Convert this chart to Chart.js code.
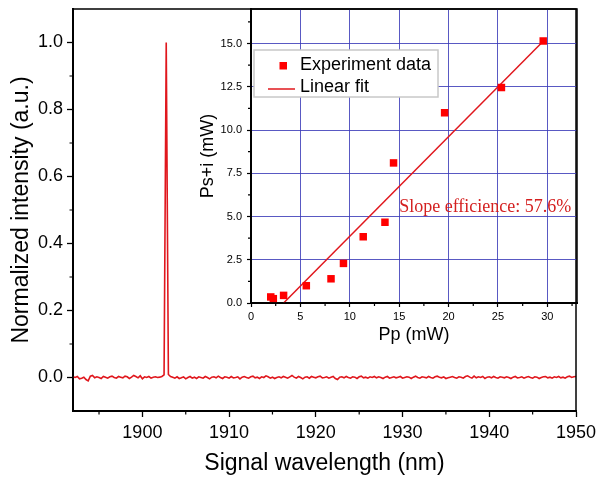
<!DOCTYPE html>
<html>
<head>
<meta charset="utf-8">
<script src="https://cdn.jsdelivr.net/npm/chart.js@4.4.1/dist/chart.umd.min.js"></script>
<style>
  body { margin: 0; background: #fff; }
  #wrap { position: relative; width: 598px; height: 483px; }
  #main { position: absolute; left: 0; top: 0; }
  #inset { position: absolute; left: 180px; top: 0; }
</style>
</head>
<body>
<div id="wrap">
  <canvas id="main" width="598" height="483"></canvas>
  <canvas id="inset" width="410" height="360"></canvas>
</div>
<script>
// spectrum, one sample every 0.25 nm starting at 1892 nm
var wlStart = 1892;
var wlStep = 0.25;
var intensity = [
  0.002, 0.000, 0.003, -0.004, -0.002, 0.001, -0.006, -0.010, 0.004, 0.006, -0.001, 0.002, 0.000, -0.003, 0.003, 0.001, -0.002, 0.002, 0.004, 0.000,
  -0.002, 0.003, 0.001, -0.001, 0.004, 0.002, -0.003, 0.001, 0.006, 0.003, -0.001, 0.005, -0.004, 0.002, 0.000, 0.003, -0.002, 0.001, 0.002, 0.000,
  0.001, 0.003, 0.008,
  1.000,
  0.009, 0.003, 0.001, -0.002, 0.002, -0.003, -0.001, 0.002, -0.004, 0.000, 0.003, -0.002, 0.001, -0.003, 0.002, 0.000,
  -0.002, 0.003, 0.000, -0.004, 0.001, 0.002, -0.001, 0.004, 0.000, -0.003, 0.002, 0.001, -0.002, 0.003, -0.001, 0.000, 0.002, -0.004, 0.001, 0.003,
  0.000, -0.002, 0.002, 0.004, -0.001, 0.001, -0.003, 0.002, 0.000, 0.005, 0.002, -0.002, 0.001, -0.003, 0.000, 0.002, -0.001, 0.003, 0.001, -0.002,
  0.002, 0.006, 0.001, -0.002, 0.003, 0.000, -0.004, 0.001, 0.002, -0.002, 0.003, 0.001, -0.001, 0.002, 0.004, -0.001, 0.000, 0.002, -0.002, 0.001,
  0.003, -0.003, -0.006, 0.001, 0.002, -0.001, 0.003, 0.000, -0.002, 0.002, 0.001, -0.003, 0.002, 0.004, -0.001, 0.001, -0.002, 0.002, 0.000, 0.003,
  -0.001, 0.002, 0.000, -0.003, 0.001, 0.003, -0.002, 0.000, 0.002, -0.001, 0.001, 0.003, -0.002, 0.000, 0.002, 0.001, -0.003, 0.001, 0.004, 0.000,
  -0.002, 0.002, 0.001, -0.001, 0.003, 0.000, -0.002, 0.002, 0.004, 0.001, -0.001, 0.002, -0.003, -0.001, 0.001, 0.003, 0.000, -0.002, 0.002, 0.001,
  -0.002, 0.003, 0.005, 0.001, -0.002, 0.004, -0.001, 0.002, 0.000, 0.003, -0.003, 0.001, 0.002, -0.001, 0.003, 0.000, -0.002, 0.002, 0.001, -0.001,
  0.002, 0.000, -0.003, 0.001, 0.003, -0.001, 0.000, 0.002, -0.002, 0.001, 0.003, 0.000, -0.002, 0.002, 0.001, -0.003, 0.000, 0.002, 0.003, -0.001,
  0.001, -0.002, 0.002, 0.000, 0.003, -0.001, 0.001, -0.002, 0.002, 0.004, 0.000, 0.002, 0.003
];

var mainXTicks = [1900, 1910, 1920, 1930, 1940, 1950];
var mainXMinor = [1895, 1905, 1915, 1925, 1935, 1945];
var mainYTicks = [0, 0.2, 0.4, 0.6, 0.8, 1.0];
var mainYMinor = [0.1, 0.3, 0.5, 0.7, 0.9];

// inset: output power vs pump power
var pumpPower = [2.0, 2.26, 3.3, 5.6, 8.1, 9.36, 11.36, 13.56, 14.43, 19.6, 25.35, 29.58];
var outPower = [0.35, 0.25, 0.44, 1.0, 1.4, 2.29, 3.83, 4.67, 8.1, 11.0, 12.46, 15.15];
var fitPump = [3.3, 29.6];
var fitOut = [0, 15.15];

var insetXTicks = [0, 5, 10, 15, 20, 25, 30];
var insetXMinor = [2.5, 7.5, 12.5, 17.5, 22.5, 27.5, 32.5];
var insetYTicks = [0, 2.5, 5, 7.5, 10, 12.5, 15];
var insetYMinor = [1.25, 3.75, 6.25, 8.75, 11.25, 13.75, 16.25];

var slopeText = 'Slope efficience: 57.6%';

Chart.defaults.font.family = '"Liberation Sans", Arial, sans-serif';
Chart.defaults.color = '#000';

// box round the plot area
var frame = {
  id: 'frame',
  afterDraw: function (chart) {
    var a = chart.chartArea, ctx = chart.ctx;
    ctx.save();
    ctx.strokeStyle = '#000';
    ctx.lineWidth = 1.5;
    ctx.strokeRect(a.left, a.top, a.right - a.left, a.bottom - a.top);
    ctx.restore();
  }
};

// short minor ticks outside the axes
var minorTicks = {
  id: 'minorTicks',
  afterDraw: function (chart, args, opts) {
    var ctx = chart.ctx, a = chart.chartArea;
    ctx.save();
    ctx.strokeStyle = '#000';
    ctx.lineWidth = 1.2;
    ctx.beginPath();
    (opts.x || []).forEach(function (v) {
      var px = chart.scales.x.getPixelForValue(v);
      ctx.moveTo(px, a.bottom);
      ctx.lineTo(px, a.bottom + opts.len);
    });
    (opts.y || []).forEach(function (v) {
      var py = chart.scales.y.getPixelForValue(v);
      ctx.moveTo(a.left, py);
      ctx.lineTo(a.left - opts.len, py);
    });
    ctx.stroke();
    ctx.restore();
  }
};

function setTicks(list) {
  return function (scale) {
    scale.ticks = list.map(function (v) { return { value: v }; });
  };
}

// fixed axis box size, no extra label padding
function fixSize(h, w) {
  return function (s) {
    if (h) s.height = h;
    if (w) s.width = w;
    s.paddingTop = 0; s.paddingBottom = 0;
    s.paddingLeft = 0; s.paddingRight = 0;
  };
}

var spectrum = intensity.map(function (v, i) {
  return { x: wlStart + i * wlStep, y: v };
});

new Chart(document.getElementById('main'), {
  type: 'line',
  data: {
    datasets: [{
      data: spectrum,
      borderColor: '#e0171d',
      borderWidth: 1.6,
      pointRadius: 0,
      tension: 0
    }]
  },
  options: {
    responsive: false,
    animation: false,
    layout: { padding: { top: 9, right: 22, left: 0, bottom: 0 } },
    plugins: {
      legend: { display: false },
      tooltip: { enabled: false },
      minorTicks: { x: mainXMinor, y: mainYMinor, len: 3.5 }
    },
    scales: {
      x: {
        type: 'linear',
        min: 1892,
        max: 1950,
        afterBuildTicks: setTicks(mainXTicks),
        afterFit: fixSize(72, 0),
        grid: { drawOnChartArea: false, tickLength: 6, tickColor: '#000', tickWidth: 1.3 },
        border: { color: '#000', width: 2 },
        ticks: { font: { size: 18 }, padding: 5, maxRotation: 0, autoSkip: false,
          callback: function (v) { return String(v); } },
        title: { display: true, text: 'Signal wavelength (nm)', font: { size: 23 }, padding: { top: 0, bottom: 6 } }
      },
      y: {
        min: -0.1,
        max: 1.1,
        afterBuildTicks: setTicks(mainYTicks),
        afterFit: fixSize(0, 73),
        grid: { drawOnChartArea: false, tickLength: 6, tickColor: '#000', tickWidth: 1.3 },
        border: { color: '#000', width: 2 },
        ticks: { font: { size: 18 }, padding: 4,
          callback: function (v) { return v.toFixed(1); } },
        title: { display: true, text: 'Normalized intensity (a.u.)', font: { size: 23 }, padding: { top: 8, bottom: 0 } }
      }
    }
  },
  plugins: [frame, minorTicks]
});

// legend box inside the inset
var insetLegend = {
  id: 'insetLegend',
  beforeDatasetsDraw: function (chart) {
    var ctx = chart.ctx, a = chart.chartArea;
    var ds = chart.data.datasets;
    var x0 = a.left + 3, y0 = a.top + 41;
    ctx.save();
    ctx.fillStyle = '#fff';
    ctx.fillRect(x0, y0, 184, 47);
    ctx.strokeStyle = '#c8c8c8';
    ctx.lineWidth = 1.5;
    ctx.strokeRect(x0, y0, 184, 47);
    ctx.font = '18px "Liberation Sans", Arial, sans-serif';
    ctx.textBaseline = 'middle';
    ctx.textAlign = 'left';
    ctx.fillStyle = ds[0].backgroundColor;
    ctx.fillRect(x0 + 25.5, y0 + 12, 7.5, 7.5);
    ctx.fillStyle = '#000';
    ctx.fillText(ds[0].label, x0 + 46, y0 + 15);
    ctx.strokeStyle = ds[1].borderColor;
    ctx.lineWidth = 1.5;
    ctx.beginPath();
    ctx.moveTo(x0 + 14, y0 + 39);
    ctx.lineTo(x0 + 41, y0 + 39);
    ctx.stroke();
    ctx.fillStyle = '#000';
    ctx.fillText(ds[1].label, x0 + 46, y0 + 37);
    ctx.restore();
  }
};

var slopeLabel = {
  id: 'slopeLabel',
  afterDatasetsDraw: function (chart) {
    var ctx = chart.ctx;
    ctx.save();
    ctx.font = '18px "Liberation Serif", "Times New Roman", serif';
    ctx.fillStyle = '#d42020';
    ctx.textAlign = 'left';
    ctx.textBaseline = 'middle';
    ctx.fillText(slopeText, chart.scales.x.getPixelForValue(15), chart.scales.y.getPixelForValue(5.56));
    ctx.restore();
  }
};

var gridBlue = 'rgba(60, 60, 185, 0.85)';

new Chart(document.getElementById('inset'), {
  type: 'scatter',
  data: {
    datasets: [{
      label: 'Experiment data',
      data: pumpPower.map(function (p, i) { return { x: p, y: outPower[i] }; }),
      backgroundColor: '#f00',
      borderColor: '#f00',
      pointStyle: 'rect',
      pointRadius: 5.3,
      borderWidth: 0
    }, {
      label: 'Linear fit',
      data: fitPump.map(function (p, i) { return { x: p, y: fitOut[i] }; }),
      showLine: true,
      borderColor: '#e0171d',
      borderWidth: 1.5,
      pointRadius: 0
    }]
  },
  options: {
    responsive: false,
    animation: false,
    layout: { padding: { top: 9, right: 13, left: 0, bottom: 0 } },
    plugins: {
      legend: { display: false },
      tooltip: { enabled: false },
      minorTicks: { x: insetXMinor, y: insetYMinor, len: 3 }
    },
    scales: {
      x: {
        type: 'linear',
        min: 0,
        max: 33,
        afterBuildTicks: setTicks(insetXTicks),
        afterFit: fixSize(57, 0),
        grid: {
          color: function (c) { return c.tick && c.tick.value === 0 ? 'rgba(0,0,0,0)' : gridBlue; },
          lineWidth: 1, tickLength: 4, tickColor: '#000', tickWidth: 1.2
        },
        border: { color: '#000', width: 2 },
        ticks: { font: { size: 11 }, padding: 3, maxRotation: 0, autoSkip: false,
          callback: function (v) { return String(v); } },
        title: { display: true, text: 'Pp (mW)', font: { size: 18 }, padding: { top: 0, bottom: 14 } }
      },
      y: {
        min: 0,
        max: 17,
        afterBuildTicks: setTicks(insetYTicks),
        afterFit: fixSize(0, 71),
        grid: {
          color: function (c) { return c.tick && c.tick.value === 0 ? 'rgba(0,0,0,0)' : gridBlue; },
          lineWidth: 1, tickLength: 4, tickColor: '#000', tickWidth: 1.2
        },
        border: { color: '#000', width: 2 },
        ticks: { font: { size: 11 }, padding: 5,
          callback: function (v) { return v.toFixed(1); } },
        title: { display: true, text: 'Ps+i (mW)', font: { size: 18 }, padding: { top: 17, bottom: 0 } }
      }
    }
  },
  plugins: [frame, minorTicks, insetLegend, slopeLabel]
});
</script>
</body>
</html>
